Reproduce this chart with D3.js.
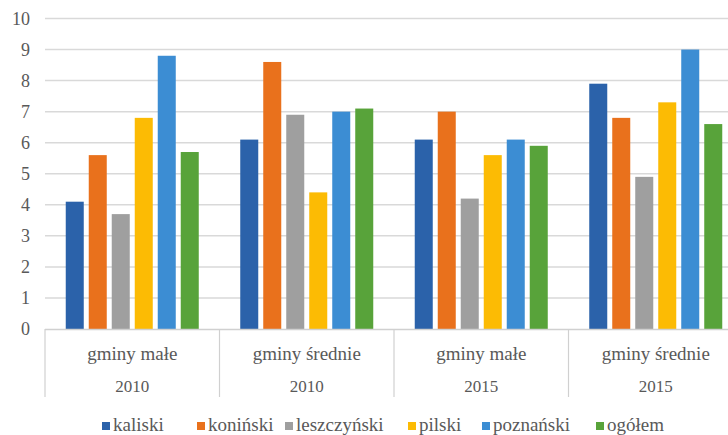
<!DOCTYPE html>
<html><head><meta charset="utf-8">
<script src="https://cdn.jsdelivr.net/npm/d3@7"></script>
</head>
<body style="margin:0">
<svg id="c" width="728" height="435"></svg>
<script>
const groups = ["gminy małe|2010","gminy średnie|2010","gminy małe|2015","gminy średnie|2015"];
const groupLabels = ["gminy małe","gminy średnie","gminy małe","gminy średnie"];
const yearLabels = ["2010","2010","2015","2015"];
const seriesNames = ["kaliski","koniński","leszczyński","pilski","poznański","ogółem"];
const kaliski     = [4.1, 6.1, 6.1, 7.9];
const koninski    = [5.6, 8.6, 7.0, 6.8];
const leszczynski = [3.7, 6.9, 4.2, 4.9];
const pilski      = [6.8, 4.4, 5.6, 7.3];
const poznanski   = [8.8, 7.0, 6.1, 9.0];
const ogolem      = [5.7, 7.1, 5.9, 6.6];
const yTicks = [0,1,2,3,4,5,6,7,8,9,10];
const colors = ["#2b62aa","#e9711c","#9f9f9f","#fcbb04","#3c8dd3","#58a33a"];

const seriesValues = [kaliski, koninski, leszczynski, pilski, poznanski, ogolem];
const svg = d3.select("#c");
const textColor = "#595959";
const FONT = '"Liberation Serif"';

const x0 = d3.scaleBand().domain(groups).range([45, 743]);
const x1 = d3.scaleBand().domain(seriesNames).range([0, x0.bandwidth()])
  .paddingInner(0.217).paddingOuter(0.902);
const y = d3.scaleLinear().domain([0,10]).range([329, 18.5]);

// gridlines
svg.append("g").selectAll("line").data(yTicks.filter(d=>d>0)).join("line")
  .attr("x1",45).attr("x2",743)
  .attr("y1",d=>y(d)).attr("y2",d=>y(d))
  .attr("stroke","#d9d9d9").attr("stroke-width",1.5);

// bars
const data = [];
groups.forEach((g,gi)=>seriesNames.forEach((s,si)=>data.push({g,s,si,v:seriesValues[si][gi]})));
svg.append("g").selectAll("rect").data(data).join("rect")
  .attr("x",d=>x0(d.g)+x1(d.s)).attr("width",x1.bandwidth())
  .attr("y",d=>y(d.v)).attr("height",d=>y(0)-y(d.v))
  .attr("fill",d=>colors[d.si]);

// axis line
svg.append("line").attr("x1",45).attr("x2",743).attr("y1",y(0)+0.5).attr("y2",y(0)+0.5)
  .attr("stroke","#d0d0d0").attr("stroke-width",1.5);

// dividers
const bounds = groups.map(g=>x0(g)).concat([x0.range()[1]]);
svg.append("g").selectAll("line").data(bounds).join("line")
  .attr("x1",d=>d).attr("x2",d=>d).attr("y1",y(0)).attr("y2",397)
  .attr("stroke","#d0d0d0").attr("stroke-width",1.2);

// all texts gathered so they are drawn the same way as the working font test
const texts = [];
yTicks.forEach(t=>texts.push({x:30, y:y(t)+6, s:"18px", a:"end", t:String(t)}));
groups.forEach((g,i)=>{
  texts.push({x:x0(g)+x0.bandwidth()/2, y:360, s:"19px", a:"middle", t:groupLabels[i]});
  texts.push({x:x0(g)+x0.bandwidth()/2, y:392, s:"17px", a:"middle", t:yearLabels[i]});
});
const legendX = [102, 197, 285, 408, 482, 596];
seriesNames.forEach((n,i)=>texts.push({x:legendX[i]+11, y:431, s:"19px", a:"start", t:n}));

svg.append("g").selectAll("text").data(texts).join("text")
  .attr("x",d=>d.x).attr("y",d=>d.y).attr("fill",textColor)
  .attr("text-anchor",d=>d.a)
  .style("font-family",FONT).style("font-size",d=>d.s)
  .text(d=>d.t);

// legend squares
svg.append("g").selectAll("rect").data(seriesNames).join("rect")
  .attr("x",(d,i)=>legendX[i]).attr("y",422).attr("width",8).attr("height",8)
  .attr("fill",(d,i)=>colors[i]);
</script>
</body></html>
